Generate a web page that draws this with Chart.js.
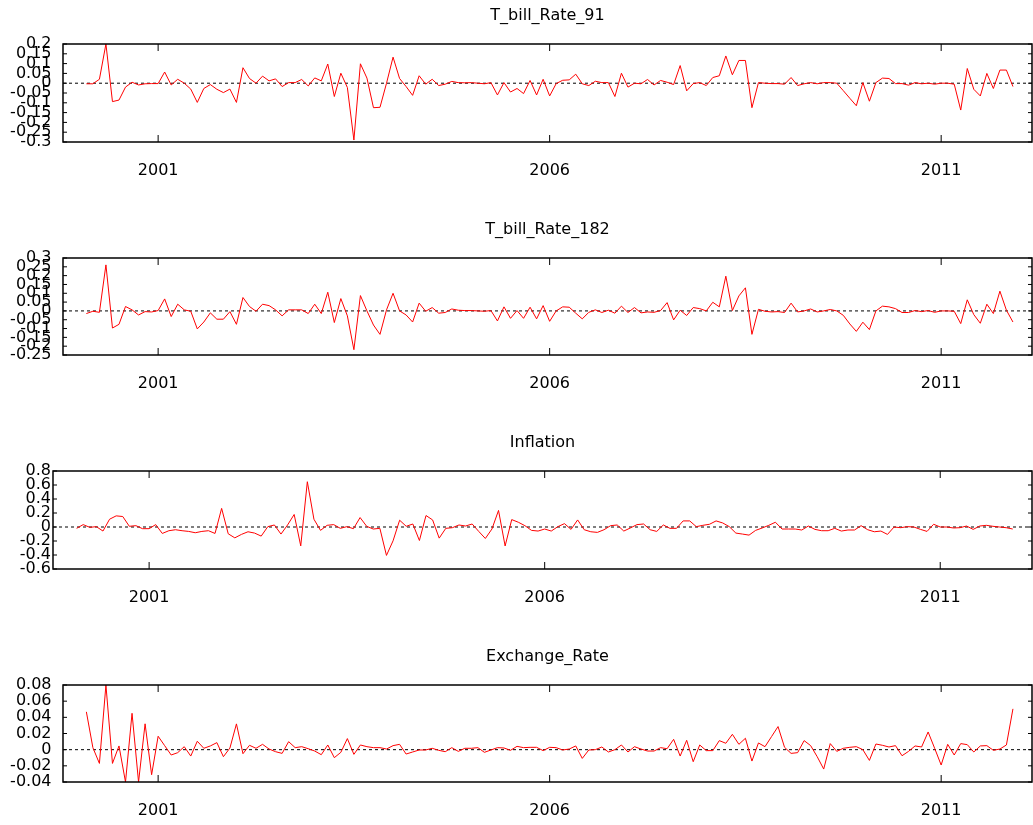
<!DOCTYPE html>
<html>
<head>
<meta charset="utf-8">
<script src="https://cdn.jsdelivr.net/npm/chart.js@4.4.0/dist/chart.umd.min.js"></script>
<style>
  html, body { margin: 0; padding: 0; background: #fff; }
  body { width: 1033px; height: 825px; position: relative; overflow: hidden; }
  .panel { position: absolute; left: 0; }
</style>
</head>
<body>
<script>
// monthly series, 2000:02 .. 2011:12
const START_YEAR = 2000;
const START_MONTH = 2;

const titles = ['T_bill_Rate_91', 'T_bill_Rate_182', 'Inflation', 'Exchange_Rate'];
const xTicks = [2001, 2006, 2011];

const tbill91 = [
  -0.003, -0.003, 0.02, 0.2, -0.094, -0.086, -0.02, 0.005, -0.009, -0.003, -0.002,
  -0.002, 0.057, -0.009, 0.02, 0, -0.03, -0.098, -0.027, -0.007, -0.031, -0.048, -0.03,
  -0.098, 0.079, 0.024, 0, 0.036, 0.012, 0.022, -0.017, 0.003, 0.003, 0.019, -0.014,
  0.027, 0.012, 0.098, -0.068, 0.051, -0.022, -0.29, 0.099, 0.026, -0.125, -0.123, 0,
  0.133, 0.024, -0.017, -0.062, 0.038, -0.005, 0.02, -0.012, -0.005, 0.009, 0.003, 0.002,
  0.003, 0, -0.003, 0.003, -0.06, 0.003, -0.045, -0.027, -0.053, 0.014, -0.06, 0.02,
  -0.065, -0.002, 0.015, 0.017, 0.046, -0.003, -0.012, 0.01, 0.003, 0.003, -0.068, 0.051,
  -0.02, 0, -0.003, 0.019, -0.009, 0.014, 0.005, -0.007, 0.09, -0.039, -0.002, 0.003,
  -0.012, 0.029, 0.038, 0.139, 0.043, 0.116, 0.116, -0.125, 0.003, 0, -0.002, -0.002,
  -0.005, 0.029, -0.012, -0.003, 0.003, -0.003, 0.003, 0.003, 0, -0.038, -0.077, -0.115,
  0.003, -0.092, 0.003, 0.026, 0.024, -0.002, -0.002, -0.01, 0.003, -0.003, 0, -0.005,
  0, 0, -0.005, -0.137, 0.075, -0.031, -0.065, 0.05, -0.027, 0.067, 0.067, -0.017
];

const tbill182 = [
  -0.015, -0.002, -0.008, 0.261, -0.097, -0.076, 0.025, 0.006, -0.023, -0.004, -0.006,
  0.002, 0.068, -0.032, 0.038, 0.006, -0.002, -0.102, -0.063, -0.011, -0.047, -0.047, -0.004,
  -0.076, 0.076, 0.025, -0.002, 0.038, 0.03, 0.006, -0.028, 0.006, 0.006, 0.006, -0.015,
  0.038, -0.015, 0.106, -0.066, 0.07, -0.028, -0.22, 0.087, 0, -0.08, -0.133, 0.006,
  0.1, 0, -0.023, -0.063, 0.044, -0.002, 0.019, -0.013, -0.009, 0.011, 0.004, 0.002,
  0.002, 0, -0.002, 0.002, -0.057, 0.023, -0.042, 0.002, -0.042, 0.021, -0.045, 0.03,
  -0.059, 0, 0.023, 0.021, -0.013, -0.045, -0.008, 0.006, -0.009, 0.004, -0.013, 0.027,
  -0.009, 0.019, -0.011, -0.006, -0.008, 0.002, 0.047, -0.051, 0.004, -0.026, 0.019, 0.013,
  0, 0.049, 0.023, 0.197, 0.002, 0.085, 0.131, -0.133, 0.009, -0.002, -0.006, -0.004,
  -0.009, 0.044, -0.006, 0, 0.011, -0.006, 0, 0.008, 0, -0.025, -0.074, -0.116,
  -0.064, -0.106, 0, 0.027, 0.023, 0.013, -0.009, -0.009, 0.002, -0.004, 0.002, -0.008,
  0, 0, -0.002, -0.072, 0.063, -0.021, -0.07, 0.038, -0.015, 0.112, 0.004, -0.063
];

const inflation = [
  -0.019, 0.034, -0.005, 0.005, -0.058, 0.111, 0.159, 0.15, 0.01, 0.019, -0.024,
  -0.024, 0.034, -0.092, -0.053, -0.039, -0.053, -0.063, -0.082, -0.063, -0.053, -0.092, 0.266,
  -0.097, -0.155, -0.106, -0.068, -0.087, -0.13, 0.005, 0.029, -0.101, 0.029, 0.179, -0.27,
  0.647, 0.111, -0.048, 0.024, 0.034, -0.019, 0.005, -0.024, 0.135, 0.01, -0.029, -0.019,
  -0.406, -0.198, 0.097, 0.01, 0.043, -0.193, 0.164, 0.101, -0.159, -0.019, -0.01, 0.029,
  0.014, 0.043, -0.063, -0.164, -0.029, 0.237, -0.271, 0.106, 0.068, 0.019, -0.048, -0.058,
  -0.029, -0.058, 0.005, 0.048, -0.034, 0.101, -0.039, -0.068, -0.077, -0.039, 0.019, 0.029,
  -0.058, -0.014, 0.034, 0.043, -0.039, -0.063, 0.029, -0.019, -0.019, 0.087, 0.087, 0.005,
  0.024, 0.039, 0.087, 0.058, 0.005, -0.087, -0.101, -0.116, -0.048, -0.014, 0.024, 0.068,
  -0.029, -0.029, -0.029, -0.043, 0.014, -0.034, -0.053, -0.053, -0.019, -0.058, -0.043, -0.043,
  0.019, -0.039, -0.068, -0.058, -0.106, 0, -0.01, 0.005, 0, -0.034, -0.063, 0.039,
  0, 0, -0.014, -0.01, 0.014, -0.034, 0.014, 0.024, 0.01, 0, -0.01, -0.029
];

const exchangeRate = [
  0.0468, 0.0025, -0.017, 0.08, -0.017, 0.0046, -0.04, 0.045, -0.04, 0.032, -0.031,
  0.0166, 0.005, -0.0066, -0.0037, 0.0037, -0.0079, 0.0104, 0.0017, 0.0046, 0.0087, -0.0087, 0.002,
  0.0319, -0.005, 0.0054, 0.0017, 0.0066, 0.0008, -0.0025, -0.0046, 0.0099, 0.0025, 0.0037, 0.0012,
  -0.0017, -0.0062, 0.0058, -0.0099, -0.0033, 0.0137, -0.0058, 0.0058, 0.0037, 0.0025, 0.0025, 0.0008,
  0.005, 0.0066, -0.0054, -0.0029, -0.0004, -0.0004, 0.0017, -0.0008, -0.0025, 0.0025, -0.0021, 0.0017,
  0.0017, 0.0025, -0.0033, -0.0004, 0.0025, 0.0021, -0.0008, 0.0041, 0.0025, 0.0029, 0.0029, -0.0012,
  0.0029, 0.0025, -0.0004, 0.0008, 0.0046, -0.0108, -0.0004, 0, 0.0033, -0.0029, 0, 0.0058,
  -0.0029, 0.0037, 0.0008, -0.0017, -0.0017, 0.0025, 0.0012, 0.0128, -0.0079, 0.0116, -0.0149, 0.0058,
  -0.0012, -0.0012, 0.0112, 0.0079, 0.019, 0.0066, 0.0141, -0.0141, 0.0083, 0.0037, 0.0161, 0.0286,
  0.0029, -0.0046, -0.0037, 0.0112, 0.005, -0.0087, -0.024, 0.0075, -0.0021, 0.0017, 0.0029, 0.0037,
  0, -0.0133, 0.007, 0.0054, 0.0033, 0.005, -0.0075, -0.0021, 0.0046, 0.0033, 0.0219, 0.0017,
  -0.019, 0.0066, -0.0066, 0.0075, 0.0062, -0.0029, 0.0046, 0.005, -0.0008, 0.0008, 0.0058, 0.0505
];

const yTicks91 = [-0.3, -0.25, -0.2, -0.15, -0.1, -0.05, 0, 0.05, 0.1, 0.15, 0.2];
const yTicks182 = [-0.25, -0.2, -0.15, -0.1, -0.05, 0, 0.05, 0.1, 0.15, 0.2, 0.25, 0.3];
const yTicksInfl = [-0.6, -0.4, -0.2, 0, 0.2, 0.4, 0.6, 0.8];
const yTicksExch = [-0.04, -0.02, 0, 0.02, 0.04, 0.06, 0.08];

const seriesList = [tbill91, tbill182, inflation, exchangeRate];
const tickList = [yTicks91, yTicks182, yTicksInfl, yTicksExch];

// layout of each panel (plot box in page pixels)
const plotTops = [44, 258, 471, 685];
const plotHeights = [98, 97, 98, 97];
const plotLefts = [63, 63, 53, 63];
const labelGaps = [11.5, 11.5, 2, 11.5];
const X_MIN = 1999.785, X_MAX = 2012.16;
const TITLE_BLOCK = 46, XAXIS_BLOCK = 40;
const FONT = 'DejaVu Sans';

const gnuplotFrame = {
    id: 'gnuplotFrame',
    beforeDatasetsDraw(chart) {
        const { ctx, chartArea: a, scales: { y } } = chart;
        const y0 = y.getPixelForValue(0);
        ctx.save();
        ctx.strokeStyle = '#000';
        ctx.lineWidth = 1;
        ctx.setLineDash([3, 3]);
        ctx.beginPath();
        ctx.moveTo(a.left, y0);
        ctx.lineTo(a.right, y0);
        ctx.stroke();
        ctx.restore();
    },
    afterDatasetsDraw(chart) {
        const { ctx, chartArea: a, scales: { x, y } } = chart;
        ctx.save();
        ctx.strokeStyle = '#000';
        ctx.lineWidth = 1;
        ctx.beginPath();
        y.ticks.forEach(t => {
            const py = y.getPixelForValue(t.value);
            ctx.moveTo(a.left, py); ctx.lineTo(a.left + 4, py);
            ctx.moveTo(a.right, py); ctx.lineTo(a.right - 4, py);
        });
        x.ticks.forEach(t => {
            const px = x.getPixelForValue(t.value);
            ctx.moveTo(px, a.top); ctx.lineTo(px, a.top + 7);
            ctx.moveTo(px, a.bottom); ctx.lineTo(px, a.bottom - 7);
        });
        ctx.stroke();
        ctx.lineWidth = 1.5;
        ctx.strokeRect(a.left, a.top, a.right - a.left, a.bottom - a.top);
        ctx.restore();
    }
};

function makePanel(i) {
    const values = seriesList[i];
    const yt = tickList[i];
    const holder = document.createElement('div');
    holder.className = 'panel';
    holder.style.top = (plotTops[i] - TITLE_BLOCK) + 'px';
    const canvas = document.createElement('canvas');
    canvas.width = 1033;
    canvas.height = TITLE_BLOCK + plotHeights[i] + XAXIS_BLOCK;
    holder.appendChild(canvas);
    document.body.appendChild(holder);

    const points = values.map((v, k) => ({
        x: START_YEAR + (START_MONTH - 1 + k) / 12,
        y: v
    }));

    return new Chart(canvas, {
        type: 'line',
        data: {
            datasets: [{
                data: points,
                borderColor: '#ff0000',
                borderWidth: 1,
                pointRadius: 0,
                tension: 0,
                fill: false
            }]
        },
        options: {
            responsive: false,
            animation: false,
            layout: { padding: { left: 0, right: 1, top: 0, bottom: 0 } },
            plugins: {
                legend: { display: false },
                tooltip: { enabled: false },
                title: {
                    display: true,
                    fullSize: false,
                    text: titles[i],
                    color: '#000',
                    font: { family: FONT, size: 16, weight: 'normal' },
                    padding: { top: 8, bottom: 18.8 }
                }
            },
            scales: {
                x: {
                    type: 'linear',
                    min: X_MIN,
                    max: X_MAX,
                    grid: { display: false, drawTicks: false },
                    border: { display: false },
                    afterBuildTicks: s => { s.ticks = xTicks.map(v => ({ value: v })); },
                    afterFit: s => { s.height = XAXIS_BLOCK; },
                    ticks: {
                        autoSkip: false,
                        maxRotation: 0,
                        padding: 19,
                        color: '#000',
                        font: { family: FONT, size: 16 },
                        callback: v => String(v)
                    }
                },
                y: {
                    min: yt[0],
                    max: yt[yt.length - 1],
                    grid: { display: false, drawTicks: false },
                    border: { display: false },
                    afterBuildTicks: s => { s.ticks = yt.map(v => ({ value: v })); },
                    afterFit: s => { s.width = plotLefts[i]; },
                    ticks: {
                        autoSkip: false,
                        padding: labelGaps[i],
                        color: '#000',
                        font: { family: FONT, size: 16 },
                        callback: v => String(v)
                    }
                }
            }
        },
        plugins: [gnuplotFrame]
    });
}

for (let i = 0; i < 4; i++) makePanel(i);
</script>
</body>
</html>
